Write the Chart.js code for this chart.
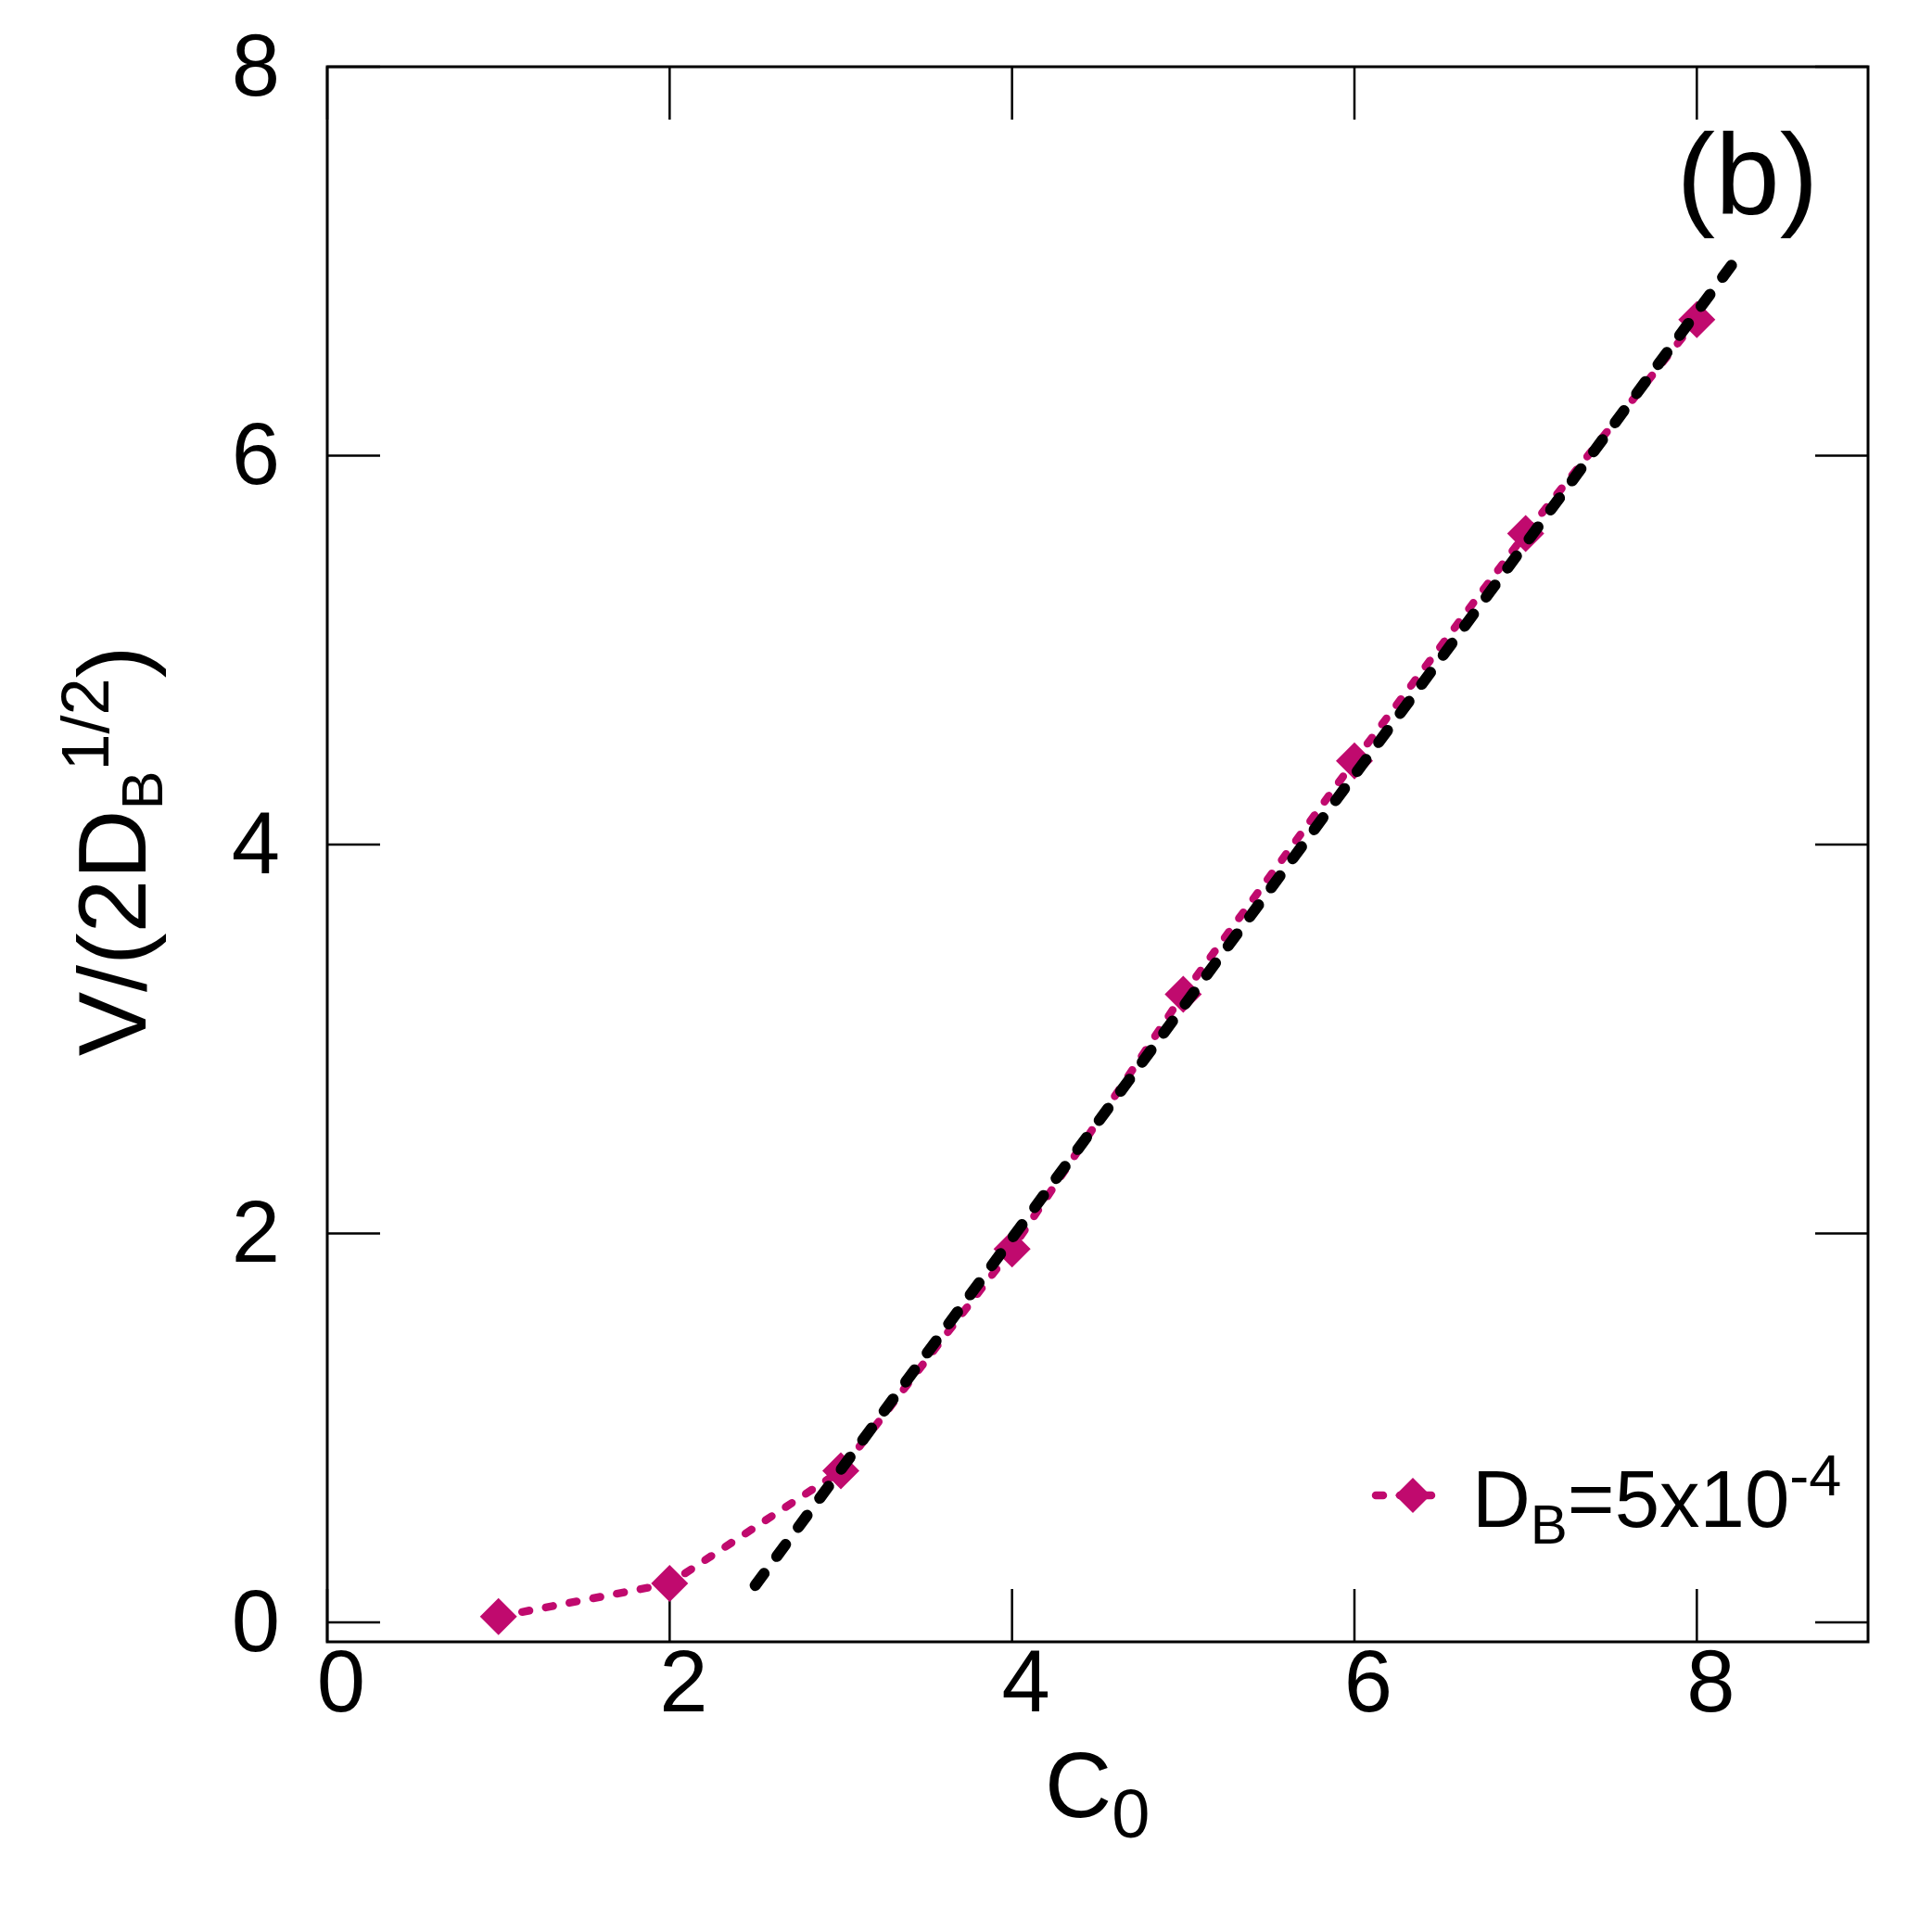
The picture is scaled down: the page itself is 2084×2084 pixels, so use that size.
<!DOCTYPE html>
<html><head><meta charset="utf-8">
<script src="https://cdn.jsdelivr.net/npm/chart.js@4/dist/chart.umd.min.js"></script>
<style>html,body{margin:0;padding:0;background:#fff}</style>
</head><body>
<canvas id="c" width="2084" height="2084"></canvas>
<script>
// ---- data ----
const xTickValues = [0, 2, 4, 6, 8];
const yTickValues = [0, 2, 4, 6, 8];
const c0Values = [1, 2, 3, 4, 5, 6, 7, 8];
const velocityValues = [0.03, 0.20, 0.78, 1.92, 3.23, 4.43, 5.60, 6.70];
const fitC0 = [2.5, 8.22];
const fitVelocity = [0.19, 7.0];
const xRange = [0, 9];
const yRange = [-0.1, 8];

const FONT = "'Liberation Sans', Arial, Helvetica, sans-serif";
const MAGENTA = 'rgb(192,10,110)';

const dataPts = c0Values.map((x, i) => ({x, y: velocityValues[i]}));
const fitPts = fitC0.map((x, i) => ({x, y: fitVelocity[i]}));

function runs(ctx, parts, x, y) {
  let cx = x;
  for (const [t, s, dy] of parts) {
    ctx.font = s + 'px ' + FONT;
    ctx.fillText(t, cx, y + dy);
    cx += ctx.measureText(t).width;
  }
  return cx;
}
function runsWidth(ctx, parts) {
  let w = 0;
  for (const [t, s] of parts) { ctx.font = s + 'px ' + FONT; w += ctx.measureText(t).width; }
  return w;
}

const decor = {
  id: 'decor',
  beforeDatasetsDraw(chart) {
    const {ctx, chartArea: a, scales} = chart;
    ctx.save();
    ctx.strokeStyle = '#000';
    ctx.lineWidth = 3;
    ctx.strokeRect(a.left, a.top, a.right - a.left, a.bottom - a.top);
    ctx.lineWidth = 2.5;
    const L = 57;
    ctx.beginPath();
    for (const v of xTickValues) {
      const px = scales.x.getPixelForValue(v);
      ctx.moveTo(px, a.bottom); ctx.lineTo(px, a.bottom - L);
      ctx.moveTo(px, a.top); ctx.lineTo(px, a.top + L);
    }
    for (const v of yTickValues) {
      const py = scales.y.getPixelForValue(v);
      ctx.moveTo(a.left, py); ctx.lineTo(a.left + L, py);
      ctx.moveTo(a.right, py); ctx.lineTo(a.right - L, py);
    }
    ctx.stroke();
    ctx.restore();
  },
  afterDraw(chart) {
    const {ctx} = chart;
    ctx.save();
    ctx.fillStyle = '#000';
    ctx.textBaseline = 'alphabetic';
    ctx.textAlign = 'left';
    // x title
    runs(ctx, [['C', 100, 0], ['0', 74, 22]], 1127, 1960);
    // y title (rotated)
    const yParts = [['V/(2D', 104, 0], ['B', 63, 18], ['1/2', 72, -40], [')', 104, 0]];
    const yw = runsWidth(ctx, yParts);
    ctx.save();
    ctx.translate(157, 918);
    ctx.rotate(-Math.PI / 2);
    runs(ctx, yParts, -yw / 2, 0);
    ctx.restore();
    // panel label
    ctx.font = '125px ' + FONT;
    ctx.textAlign = 'center';
    ctx.fillText('(b)', 1885, 231);
    ctx.textAlign = 'left';
    // legend
    const ds = chart.data.datasets[1];
    const ly = 1613;
    ctx.save();
    ctx.strokeStyle = ds.borderColor;
    ctx.lineWidth = ds.borderWidth;
    ctx.lineCap = 'round';
    ctx.setLineDash(ds.borderDash);
    ctx.beginPath(); ctx.moveTo(1484, ly); ctx.lineTo(1562, ly); ctx.stroke();
    ctx.restore();
    ctx.fillStyle = ds.pointBackgroundColor;
    Chart.helpers.drawPoint(ctx, {pointStyle: 'rectRot', radius: 19, borderWidth: 0}, 1524, ly);
    ctx.fillStyle = '#000';
    runs(ctx, [['D', 87, 0], ['B', 60, 18], ['=5x10', 87, 0], ['-4', 63, -34]], 1588, 1647);
    ctx.restore();
  }
};

new Chart(document.getElementById('c'), {
  type: 'scatter',
  data: {
    datasets: [
      {
        label: 'fit',
        data: fitPts,
        showLine: true,
        borderColor: '#000',
        borderWidth: 12,
        borderDash: [16, 23],
        borderCapStyle: 'round',
        pointRadius: 0,
        order: 0
      },
      {
        label: 'D_B=5x10^-4',
        data: dataPts,
        showLine: true,
        borderColor: MAGENTA,
        backgroundColor: MAGENTA,
        borderWidth: 8.5,
        borderDash: [8, 18],
        borderCapStyle: 'round',
        pointStyle: 'rectRot',
        pointRadius: 20,
        pointBackgroundColor: MAGENTA,
        pointBorderColor: MAGENTA,
        pointBorderWidth: 0,
        order: 1
      }
    ]
  },
  options: {
    responsive: false,
    devicePixelRatio: 1,
    animation: false,
    layout: {padding: {left: 0, top: 72, right: 69, bottom: 0}},
    plugins: {legend: {display: false}, tooltip: {enabled: false}},
    scales: {
      x: {
        type: 'linear', min: xRange[0], max: xRange[1],
        grid: {display: false, drawTicks: false},
        border: {display: false},
        afterBuildTicks: s => { s.ticks = xTickValues.map(v => ({value: v})); },
        afterFit: s => { s.height = 2084 - 1771; s.paddingLeft = 0; s.paddingRight = 0; },
        ticks: {
          color: '#000', padding: 7, labelOffset: 15, maxRotation: 0, autoSkip: false,
          font: {family: FONT, size: 94, lineHeight: 0.9}
        }
      },
      y: {
        type: 'linear', min: yRange[0], max: yRange[1],
        grid: {display: false, drawTicks: false},
        border: {display: false},
        afterBuildTicks: s => { s.ticks = yTickValues.map(v => ({value: v})); },
        afterFit: s => { s.width = 353; s.paddingTop = 0; s.paddingBottom = 0; },
        ticks: {
          color: '#000', padding: 51, labelOffset: 5, autoSkip: false,
          font: {family: FONT, size: 94, lineHeight: 0.5}
        }
      }
    }
  },
  plugins: [decor]
});
</script>
</body></html>
